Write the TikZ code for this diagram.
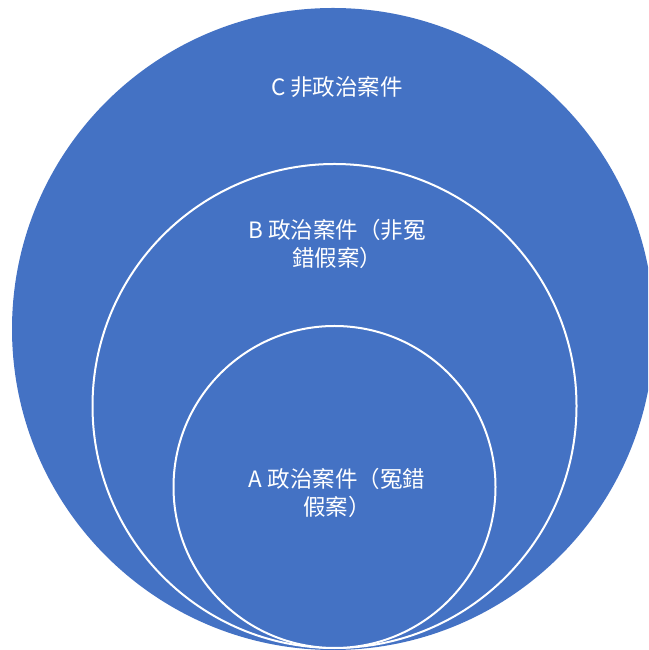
\documentclass[tikz,border=0pt]{standalone}
\usepackage{fontspec}
\newfontfamily\cjk{Noto Sans CJK TC}
\definecolor{setblue}{HTML}{4472C4}

\begin{document}
\begin{tikzpicture}[x=1pt,y=1pt,
    ring/.style={circle,fill=setblue,inner sep=0pt},
    lbl/.style={text=white,align=center,font=\cjk\fontsize{22.5}{28}\selectfont}]
    \useasboundingbox(0,0)rectangle(648,650);
    \clip(0,0)rectangle(648,650);
    \node[ring,minimum size=642pt](C)at(333,321){};
    \node[ring,draw=white,line width=2pt,minimum size=484pt](B)at(334.5,244){};
    \node[ring,draw=white,line width=2pt,minimum size=322pt](A)at(334.5,163){};
    \node[lbl](Ctext)at(337,563){C 非政治案件};
    \node[lbl](Btext)at(337,406){B 政治案件（非冤\\錯假案）};
    \node[lbl](Atext)at(337,157){A 政治案件（冤錯\\假案）};
\end{tikzpicture}
\end{document}
